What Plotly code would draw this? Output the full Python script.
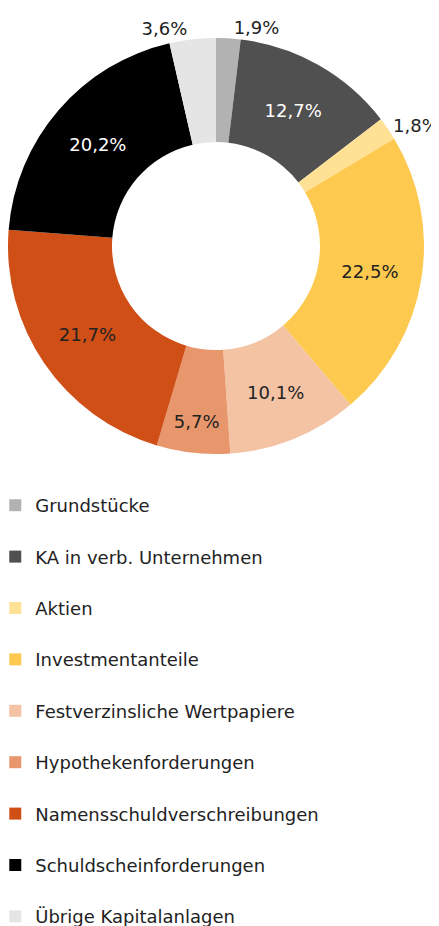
import plotly.graph_objects as go

categories = ["Grundstücke", "KA in verb. Unternehmen", "Aktien", "Investmentanteile",
              "Festverzinsliche Wertpapiere", "Hypothekenforderungen",
              "Namensschuldverschreibungen", "Schuldscheinforderungen", "Übrige Kapitalanlagen"]
values = [1.9, 12.7, 1.8, 22.5, 10.1, 5.7, 21.7, 20.2, 3.6]
colors = ["#b2b2b2", "#505050", "#ffe196", "#fdc94f", "#f4c3a4", "#e8966b",
          "#d04f17", "#000000", "#e5e5e5"]
text_positions = ["outside", "inside", "outside", "inside", "inside", "inside",
                  "inside", "inside", "outside"]
text_colors = ["#222", "#ffffff", "#222", "#222", "#222", "#222", "#222", "#ffffff", "#222"]

W, H = 439, 926
fig = go.Figure()
fig.add_trace(go.Pie(
    labels=categories, values=values, sort=False, direction="clockwise", rotation=0,
    hole=0.5, marker=dict(colors=colors, line=dict(width=0)),
    texttemplate="%{value:.1f}%", textposition=text_positions,
    insidetextorientation="horizontal",
    insidetextfont=dict(color=text_colors, size=18, family="DejaVu Sans"),
    outsidetextfont=dict(color="#222", size=18, family="DejaVu Sans"),
    showlegend=False, automargin=False,
    domain=dict(x=[0, 416 / W], y=[1 - 446 / H, 1 - 30 / H]),
))
for name, col in zip(categories, colors):
    fig.add_trace(go.Scatter(
        x=[None], y=[None], mode="markers", name=name, legendgroup=name,
        marker=dict(symbol="square", size=12, color=col),
    ))

fig.update_layout(
    width=W, height=H, margin=dict(l=0, r=0, t=0, b=0, autoexpand=False),
    paper_bgcolor="white", plot_bgcolor="white",
    separators=",.",
    font=dict(family="DejaVu Sans", size=18, color="#222"),
    xaxis=dict(visible=False), yaxis=dict(visible=False),
    showlegend=True,
    legend=dict(orientation="v", x=-0.029, xanchor="left", y=1 - 479 / H, yanchor="top",
                tracegroupgap=25, font=dict(size=18, family="DejaVu Sans", color="#222"),
                itemwidth=30, bgcolor="rgba(0,0,0,0)"),
)
fig.write_html("out.html")
